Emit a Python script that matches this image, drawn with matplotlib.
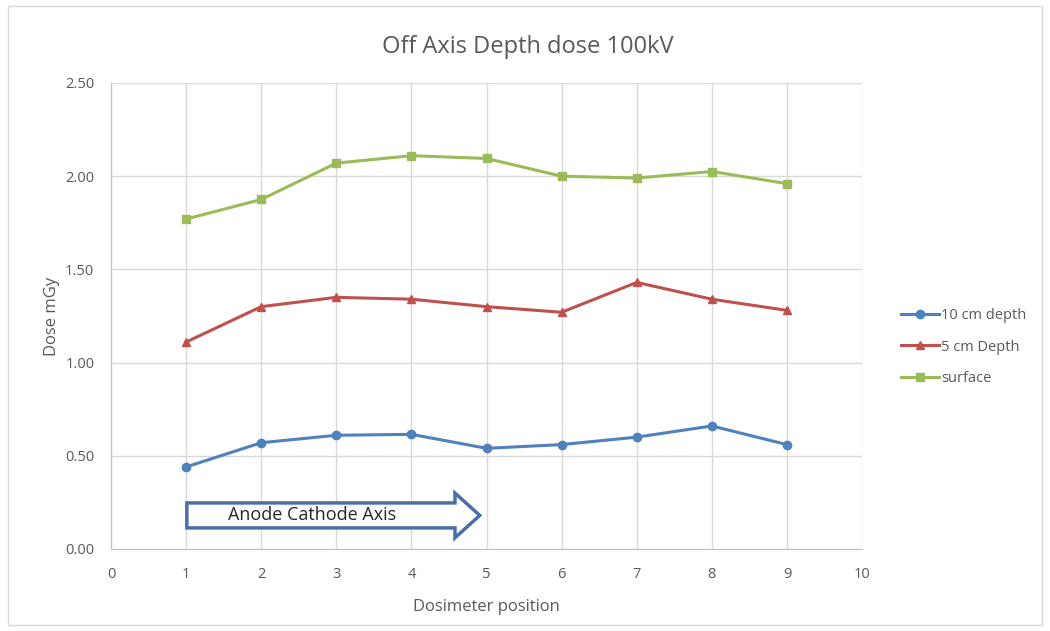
import matplotlib.pyplot as plt
from matplotlib.patches import FancyArrow, Rectangle

plt.rcParams['font.family'] = ['Open Sans', 'DejaVu Sans']

# dose readings per dosimeter position
positions = [1, 2, 3, 4, 5, 6, 7, 8, 9]
depth_10cm = [0.44, 0.57, 0.61, 0.615, 0.54, 0.56, 0.60, 0.66, 0.56]
depth_5cm = [1.11, 1.30, 1.35, 1.34, 1.30, 1.27, 1.43, 1.34, 1.28]
surface = [1.77, 1.875, 2.07, 2.11, 2.095, 2.00, 1.99, 2.025, 1.96]

blue = '#4F81BD'
red = '#C0504D'
green = '#9BBB59'
text_grey = '#595959'

fig = plt.figure(figsize=(10.5, 6.31), dpi=100)
ax = fig.add_axes([0.1057, 0.13, 0.7153, 0.7385])

# outer chart border
fig.patches.append(Rectangle((0.008, 0.01), 0.984, 0.98, transform=fig.transFigure,
                             fill=False, edgecolor='#D9D9D9', linewidth=1))

ax.plot(positions, depth_10cm, color=blue, marker='o', markersize=6, linewidth=2.2,
        label='10 cm depth')
ax.plot(positions, depth_5cm, color=red, marker='^', markersize=6, linewidth=2.2,
        label='5 cm Depth')
ax.plot(positions, surface, color=green, marker='s', markersize=5.5, linewidth=2.2,
        label='surface')

ax.set_xlim(0, 10)
ax.set_ylim(0, 2.5)
ax.set_xticks(range(0, 11))
ax.set_yticks([0, 0.5, 1.0, 1.5, 2.0, 2.5])
ax.set_yticklabels(['%.2f' % v for v in [0, 0.5, 1.0, 1.5, 2.0, 2.5]])
ax.grid(True, color='#D9D9D9', linewidth=1)
ax.set_axisbelow(True)
for side in ['top', 'right']:
    ax.spines[side].set_visible(False)
for side in ['left', 'bottom']:
    ax.spines[side].set_color('#BFBFBF')
ax.tick_params(length=0, labelsize=10.5, colors=text_grey)
ax.tick_params(axis='x', pad=13)
ax.tick_params(axis='y', pad=12)

ax.set_xlabel('Dosimeter position', fontsize=12, color=text_grey, labelpad=12)
ax.set_ylabel('Dose mGy', fontsize=12, color=text_grey, labelpad=4)
fig.text(0.503, 0.925, 'Off Axis Depth dose 100kV', fontsize=17, color=text_grey,
         ha='center', va='center')

# block arrow for the anode-cathode direction
arrow = FancyArrow(1.01, 0.18, 3.9, 0, width=0.134, head_width=0.24, head_length=0.33,
                   length_includes_head=True, facecolor='white', edgecolor='#4A6FA8',
                   linewidth=2.5, zorder=4)
ax.add_patch(arrow)
ax.text(2.68, 0.18, 'Anode Cathode Axis', fontsize=13, color='#262626',
        ha='center', va='center', zorder=5)

fig.legend(loc='center left', bbox_to_anchor=(0.846, 0.45), frameon=False,
           fontsize=10.5, labelcolor=text_grey, handlelength=2.6, handletextpad=0.1,
           labelspacing=1.15)

plt.savefig('out.png', dpi=100)
